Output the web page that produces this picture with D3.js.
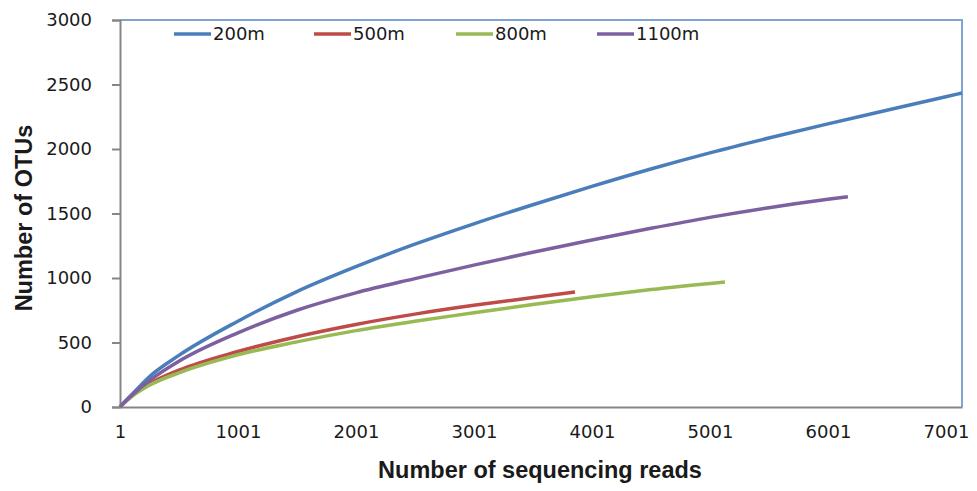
<!DOCTYPE html>
<html>
<head>
<meta charset="utf-8">
<script src="https://cdn.jsdelivr.net/npm/d3@7"></script>
<style>
  body { margin: 0; background: #fff; }
  text { font-family: "DejaVu Sans", sans-serif; fill: #1a1a1a; }
  .title { font-family: "Liberation Sans", Arial, sans-serif; font-weight: bold; }
</style>
</head>
<body>
<div id="chart"></div>
<script>
/* DATA */
const seriesNames = ["200m", "500m", "800m", "1100m"];
const seriesColors = ["#4A7EBB", "#BE4B48", "#98B954", "#7D60A0"];

const reads200 = [1, 100, 250, 500, 1000, 1500, 2000, 2500, 3000, 3500, 4000, 4500, 5000, 5500, 6000, 6500, 7000, 7137];
const otus200  = [1, 95, 235, 400, 665, 895, 1088, 1262, 1420, 1568, 1710, 1845, 1970, 2085, 2195, 2300, 2405, 2434];

const reads500 = [1, 100, 250, 500, 1000, 1500, 2000, 2500, 3000, 3500, 3857];
const otus500  = [1, 90, 180, 285, 430, 545, 640, 720, 788, 848, 891];

const reads800 = [1, 100, 250, 500, 1000, 1500, 2000, 2500, 3000, 3500, 4000, 4500, 5128];
const otus800  = [1, 80, 168, 265, 405, 505, 592, 665, 730, 795, 855, 910, 969];

const reads1100 = [1, 100, 250, 500, 1000, 1500, 2000, 2500, 3000, 3500, 4000, 4500, 5000, 5500, 6000, 6170];
const otus1100  = [1, 90, 205, 355, 575, 750, 885, 995, 1100, 1200, 1295, 1385, 1470, 1545, 1610, 1630];

const xTicks = [1, 1001, 2001, 3001, 4001, 5001, 6001, 7001];
const yTicks = [0, 500, 1000, 1500, 2000, 2500, 3000];

/* CONSTANTS */
const width = 977;
const height = 491;
const plot = { left: 120, right: 962, top: 20, bottom: 407 };

const allReads = [reads200, reads500, reads800, reads1100];
const allOtus = [otus200, otus500, otus800, otus1100];
const series = seriesNames.map((name, i) => ({
  name: name,
  color: seriesColors[i],
  values: allReads[i].map((r, j) => ({ reads: r, otus: allOtus[i][j] }))
}));

/* SCALES */
// category axis in the original runs a bit past the last label
const xScale = d3.scaleLinear()
  .domain([1, 7137])
  .range([plot.left, plot.right]);

const yScale = d3.scaleLinear()
  .domain([0, 3000])
  .range([plot.bottom, plot.top]);

/* SVG */
const svg = d3.select("#chart")
  .append("svg")
  .attr("width", width)
  .attr("height", height);

// frame top + right (light blue)
svg.append("path")
  .attr("d", `M${plot.left},${plot.top}H${plot.right}V${plot.bottom}`)
  .attr("fill", "none")
  .attr("stroke", "#7FA4D4")
  .attr("stroke-width", 2);

// y axis
const yAxis = d3.axisLeft(yScale)
  .tickValues(yTicks)
  .tickSize(8)
  .tickPadding(20)
  .tickFormat(d3.format("d"));

svg.append("g")
  .attr("transform", `translate(${plot.left},0)`)
  .call(yAxis)
  .call(g => g.select(".domain").attr("stroke", "#868686").attr("stroke-width", 2))
  .call(g => g.selectAll(".tick line").attr("stroke", "#868686").attr("stroke-width", 2))
  .call(g => g.selectAll(".tick text").attr("font-size", 18).attr("font-family", "DejaVu Sans").attr("fill", "#1a1a1a"));

// x axis
const xAxis = d3.axisBottom(xScale)
  .tickValues(xTicks)
  .tickSize(0)
  .tickPadding(18)
  .tickFormat(d3.format("d"));

svg.append("g")
  .attr("transform", `translate(0,${plot.bottom})`)
  .call(xAxis)
  .call(g => g.select(".domain").attr("stroke", "#868686").attr("stroke-width", 2))
  .call(g => g.selectAll(".tick text").attr("font-size", 18).attr("font-family", "DejaVu Sans").attr("fill", "#1a1a1a"));

// lines
const line = d3.line()
  .x(d => xScale(d.reads))
  .y(d => yScale(d.otus))
  .curve(d3.curveMonotoneX);

svg.selectAll(".series")
  .data(series)
  .join("path")
  .attr("class", "series")
  .attr("fill", "none")
  .attr("stroke", d => d.color)
  .attr("stroke-width", 3.5)
  .attr("d", d => line(d.values));

// legend
const legendX = [174, 314, 456, 597];
const legend = svg.selectAll(".legend")
  .data(series)
  .join("g")
  .attr("class", "legend")
  .attr("transform", (d, i) => `translate(${legendX[i]},34)`);

legend.append("line")
  .attr("x1", 0).attr("x2", 37)
  .attr("stroke", d => d.color)
  .attr("stroke-width", 3.5);

legend.append("text")
  .attr("x", 39)
  .attr("dy", "0.35em")
  .attr("font-size", 18)
  .text(d => d.name);

// axis titles
svg.append("text")
  .attr("class", "title")
  .attr("x", 540)
  .attr("y", 478)
  .attr("text-anchor", "middle")
  .attr("font-size", 23.5)
  .text("Number of sequencing reads");

svg.append("text")
  .attr("class", "title")
  .attr("transform", "translate(32,218) rotate(-90)")
  .attr("text-anchor", "middle")
  .attr("font-size", 23.5)
  .text("Number of OTUs");
</script>
</body>
</html>
